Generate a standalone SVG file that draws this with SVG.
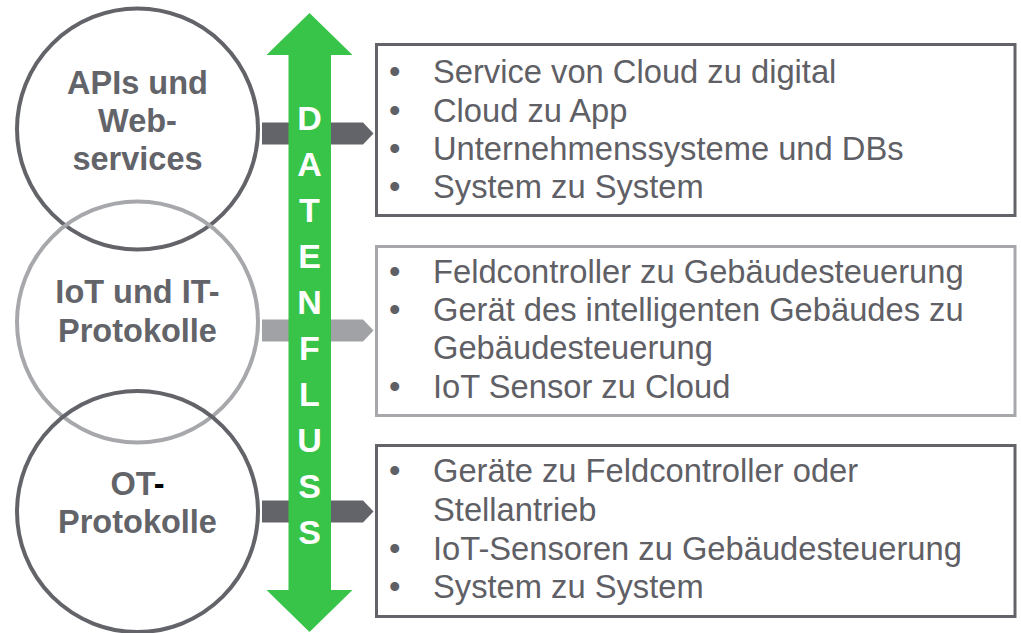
<svg xmlns="http://www.w3.org/2000/svg" width="1021" height="633" viewBox="0 0 1021 633">
<style>
.bg{fill:#ffffff}
.cdark{fill:none;stroke:#636469;stroke-width:4}
.clight{fill:none;stroke:#a7a8ab;stroke-width:4}
.bdark{fill:none;stroke:#636469;stroke-width:3}
.blight{fill:none;stroke:#a7a8ab;stroke-width:3}
.ctext{font-family:"Liberation Sans",Arial,sans-serif;font-weight:bold;font-size:32.5px;fill:#636469;text-anchor:middle}
.btext{font-family:"Liberation Sans",Arial,sans-serif;font-size:32.7px;fill:#5f6066}
.flow{font-family:"Liberation Sans",Arial,sans-serif;font-weight:bold;font-size:34px;fill:#ffffff;text-anchor:middle}
</style>
<rect class="bg" x="0" y="0" width="1021" height="633"/>
<g id="connectors">
<polygon points="262,122.5 363,122.5 373.5,133.5 363,144.5 262,144.5" fill="#636469"/>
<polygon points="262,319.5 363,319.5 373.5,330.5 363,341.5 262,341.5" fill="#a1a2a5"/>
<polygon points="262,500.5 363,500.5 373.5,511.5 363,522.5 262,522.5" fill="#636469"/>
</g>
<g id="datenfluss">
<polygon points="309.5,13 352.5,55 331,55 331,590 352.5,590 309.5,632 266.5,590 288.5,590 288.5,55 266.5,55" fill="#37c449"/>
<text class="flow" x="309.5" y="130">D</text>
<text class="flow" x="309.5" y="176">A</text>
<text class="flow" x="309.5" y="222">T</text>
<text class="flow" x="309.5" y="268">E</text>
<text class="flow" x="309.5" y="314">N</text>
<text class="flow" x="309.5" y="360">F</text>
<text class="flow" x="309.5" y="406">L</text>
<text class="flow" x="309.5" y="452">U</text>
<text class="flow" x="309.5" y="498">S</text>
<text class="flow" x="309.5" y="544">S</text>
</g>
<g id="circle-apis">
<circle class="cdark" cx="137.5" cy="129" r="120.5"/>
<text class="ctext" x="137.5" y="94">APIs und</text>
<text class="ctext" x="137.5" y="132">Web-</text>
<text class="ctext" x="137.5" y="170">services</text>
</g>
<g id="circle-iot">
<circle class="clight" cx="137.5" cy="322" r="120.5"/>
<text class="ctext" x="137.5" y="303">IoT und IT-</text>
<text class="ctext" x="137.5" y="342">Protokolle</text>
</g>
<g id="circle-ot">
<circle class="cdark" cx="137.5" cy="511.5" r="120.5"/>
<text class="ctext" x="137.5" y="495">OT<tspan fill="#000000">-</tspan></text>
<text class="ctext" x="137.5" y="533">Protokolle</text>
</g>
<g id="box-apis">
<rect class="bdark" x="376.5" y="44.5" width="638.5" height="171"/>
<text class="btext" x="389" y="83">•</text><text class="btext" x="433" y="83">Service von Cloud zu digital</text>
<text class="btext" x="389" y="121.5">•</text><text class="btext" x="433" y="121.5">Cloud zu App</text>
<text class="btext" x="389" y="160">•</text><text class="btext" x="433" y="160">Unternehmenssysteme und DBs</text>
<text class="btext" x="389" y="198">•</text><text class="btext" x="433" y="198">System zu System</text>
</g>
<g id="box-iot">
<rect class="blight" x="376.5" y="246.5" width="638.5" height="169"/>
<text class="btext" x="389" y="283">•</text><text class="btext" x="433" y="283">Feldcontroller zu Gebäudesteuerung</text>
<text class="btext" x="389" y="321">•</text><text class="btext" x="433" y="321">Gerät des intelligenten Gebäudes zu</text>
<text class="btext" x="433" y="359">Gebäudesteuerung</text>
<text class="btext" x="389" y="398">•</text><text class="btext" x="433" y="398">IoT Sensor zu Cloud</text>
</g>
<g id="box-ot">
<rect class="bdark" x="376.5" y="445.5" width="638.5" height="171"/>
<text class="btext" x="389" y="482">•</text><text class="btext" x="433" y="482">Geräte zu Feldcontroller oder</text>
<text class="btext" x="433" y="520.5">Stellantrieb</text>
<text class="btext" x="389" y="560">•</text><text class="btext" x="433" y="560">IoT-Sensoren zu Gebäudesteuerung</text>
<text class="btext" x="389" y="598">•</text><text class="btext" x="433" y="598">System zu System</text>
</g>
</svg>
